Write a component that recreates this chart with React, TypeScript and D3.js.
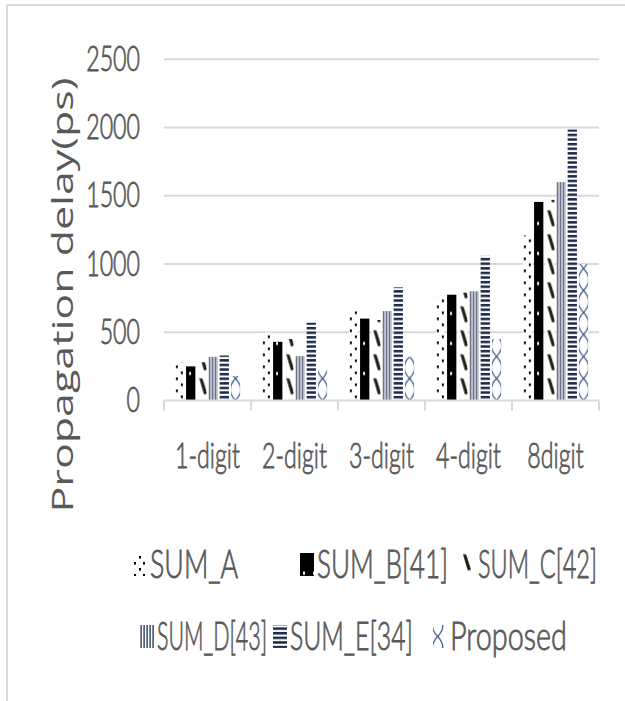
import React from "react";
import * as d3 from "d3";

// Propagation delay (ps) per adder width
const categories = ["1-digit", "2-digit", "3-digit", "4-digit", "8digit"];
const seriesNames = ["SUM_A", "SUM_B[41]", "SUM_C[42]", "SUM_D[43]", "SUM_E[34]", "Proposed"];
const sumA = [280, 500, 665, 760, 1210];
const sumB = [250, 430, 600, 775, 1455];
const sumC = [280, 450, 590, 790, 1470];
const sumD = [320, 325, 655, 800, 1600];
const sumE = [330, 570, 830, 1060, 1985];
const proposed = [180, 225, 320, 450, 1000];
const yTicks = [0, 500, 1000, 1500, 2000, 2500];

const seriesValues = [sumA, sumB, sumC, sumD, sumE, proposed];
const patternIds = ["patA", "patB", "patC", "patD", "patE", "patF"];
// where each legend swatch starts inside its pattern tile
const swatchPhase = [16, 12.8, 0.5, 16, 16, 10.5];

const W = 625;
const H = 701;
const plot = { left: 164, right: 599, top: 59.3, bottom: 400.5 };
const textColor = "#595959";
const gridColor = "#d9d9d9";
const SY = 1.5; // vertical stretch applied to horizontal text

// legend entries: [series index, text x, baseline, text width]
const legendLayout: [number, number, number, number][] = [
  [0, 150, 578, 88],
  [1, 317, 578, 131],
  [2, 478, 578, 119],
  [3, 157, 650, 110],
  [4, 290, 650, 123],
  [5, 450, 650, 117],
];

function Patterns() {
  const wave = 5.2;
  const c = 4.65;
  return (
    <defs>
      <pattern id="patA" patternUnits="userSpaceOnUse" width={9} height={12}>
        <rect width={9} height={12} fill="#fff" />
        <rect x={1} y={1} width={2} height={2.6} fill="#000" />
        <rect x={6} y={7} width={2} height={2.6} fill="#000" />
      </pattern>
      <pattern id="patB" patternUnits="userSpaceOnUse" width={10} height={30}>
        <rect width={10} height={30} fill="#000" />
        <rect x={3} y={1.5} width={2} height={3} fill="#fff" />
      </pattern>
      <pattern id="patC" patternUnits="userSpaceOnUse" width={14} height={24}>
        <rect width={14} height={24} fill="#fff" />
        <path d="M2.5,2 L5,2.5 L9.5,17 L7,17.5 Z" fill="#1c1c12" stroke="#1c1c12" strokeWidth={0.8} strokeLinejoin="round" />
      </pattern>
      <pattern id="patD" patternUnits="userSpaceOnUse" width={3} height={10}>
        <rect width={3} height={10} fill="#fff" />
        <rect x={0.4} y={0} width={1.4} height={10} fill="#2e3d5c" />
      </pattern>
      <pattern id="patE" patternUnits="userSpaceOnUse" width={10} height={4.6}>
        <rect width={10} height={4.6} fill="#fff" />
        <rect x={0} y={0} width={10} height={2.5} fill="#1b2a4a" />
      </pattern>
      <pattern id="patF" patternUnits="userSpaceOnUse" width={20} height={44}>
        <rect width={20} height={44} fill="#fff" />
        <path
          d={`M${c},0 Q${c + 2 * wave},11 ${c},22 Q${c - 2 * wave},33 ${c},44`}
          fill="none"
          stroke="#34507f"
          strokeWidth={1.1}
        />
        <path
          d={`M${c},0 Q${c - 2 * wave},11 ${c},22 Q${c + 2 * wave},33 ${c},44`}
          fill="none"
          stroke="#34507f"
          strokeWidth={1.1}
        />
      </pattern>
    </defs>
  );
}

function StretchText(props: {
  x: number;
  y: number;
  size: number;
  anchor?: string;
  length?: number;
  children: React.ReactNode;
}) {
  return (
    <text
      transform={`translate(${props.x},${props.y}) scale(1,${SY})`}
      fontFamily="Lato, 'Open Sans', sans-serif"
      fontWeight={300}
      fontSize={props.size}
      fill={textColor}
      stroke={textColor}
      strokeWidth={0.55}
      textAnchor={props.anchor || "start"}
      textLength={props.length}
      lengthAdjust={props.length ? "spacingAndGlyphs" : undefined}
    >
      {props.children}
    </text>
  );
}

export default function App() {
  const x0 = d3
    .scaleBand<string>()
    .domain(categories)
    .range([plot.left, plot.right])
    .paddingInner(0.228)
    .paddingOuter(0.114);
  const x1 = d3
    .scaleBand<number>()
    .domain(d3.range(seriesNames.length))
    .range([0, x0.bandwidth()])
    .paddingInner(0.17)
    .paddingOuter(0.085);
  const y = d3.scaleLinear().domain([0, 2500]).range([plot.bottom, plot.top]);

  const step = x0.step();
  const boundaries = d3.range(categories.length + 1).map((i) => plot.left + i * step);

  return (
    <svg
      width={W}
      height={H}
      style={{ position: "absolute", left: 0, top: 0, background: "#fff" }}
    >
      <Patterns />
      {/* chart frame */}
      <line x1={7} y1={5} x2={W} y2={5} stroke={gridColor} strokeWidth={2} />
      <line x1={7} y1={5} x2={7} y2={H} stroke={gridColor} strokeWidth={2} />

      {/* gridlines */}
      {yTicks
        .filter((t) => t > 0)
        .map((t) => (
          <line key={t} x1={plot.left} x2={plot.right} y1={y(t)} y2={y(t)} stroke={gridColor} strokeWidth={2} />
        ))}

      {/* y tick labels */}
      {yTicks.map((t) => (
        <StretchText key={t} x={140} y={y(t) + 11.6} size={23.2} anchor="end">
          {t}
        </StretchText>
      ))}

      {/* bars */}
      {categories.map((c, ci) => (
        <g key={c}>
          {seriesValues.map((vals, si) => {
            const bx = (x0(c) as number) + (x1(si) as number);
            const h = plot.bottom - y(vals[ci]);
            return (
              <g key={si} transform={`translate(${bx},${plot.bottom})`}>
                <rect x={0} y={-h} width={x1.bandwidth()} height={h} fill={`url(#${patternIds[si]})`} />
              </g>
            );
          })}
        </g>
      ))}

      {/* category axis */}
      <line x1={plot.left} x2={plot.right} y1={plot.bottom} y2={plot.bottom} stroke={gridColor} strokeWidth={2} />
      {boundaries.map((bx, i) => (
        <line key={i} x1={bx} x2={bx} y1={plot.bottom} y2={plot.bottom + 10} stroke={gridColor} strokeWidth={2} />
      ))}
      {categories.map((c) => (
        <StretchText key={c} x={(x0(c) as number) + x0.bandwidth() / 2} y={468} size={23.2} anchor="middle">
          {c}
        </StretchText>
      ))}

      {/* y axis title */}
      <text
        transform={`translate(73,295) rotate(-90)`}
        fontFamily="'Open Sans', sans-serif"
        fontSize={30}
        fill={textColor}
        textAnchor="middle"
        textLength={435}
        lengthAdjust="spacingAndGlyphs"
      >
        Propagation delay(ps)
      </text>

      {/* legend */}
      {legendLayout.map(([si, tx, base, len]) => {
        const mx = tx - 17;
        const top = base - 25;
        const phase = swatchPhase[si];
        return (
          <g key={si}>
            <g transform={`translate(${mx},${top - phase})`}>
              <rect x={0} y={phase} width={14} height={23} fill={`url(#${patternIds[si]})`} />
            </g>
            <StretchText x={tx} y={base} size={26} length={len}>
              {seriesNames[si]}
            </StretchText>
          </g>
        );
      })}
    </svg>
  );
}
